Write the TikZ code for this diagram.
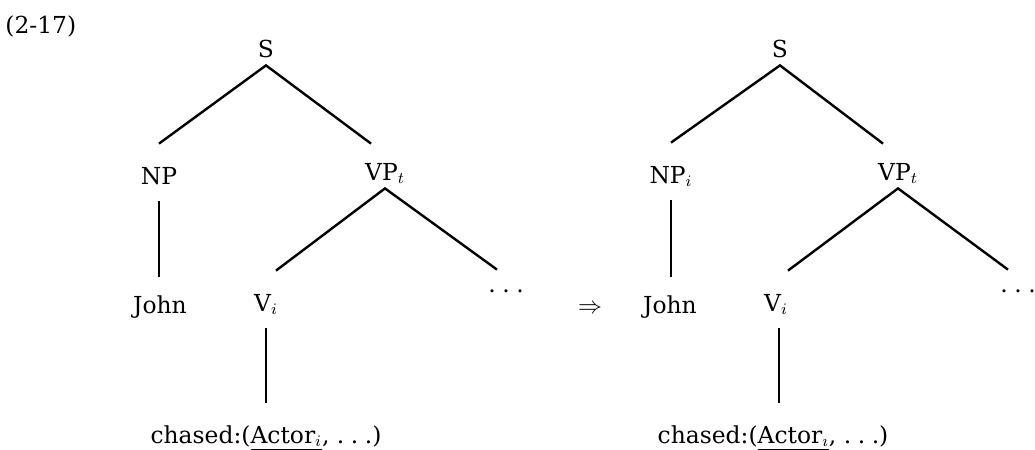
\documentclass[tikz,border=0pt]{standalone}
\usepackage{fontspec}
\setmainfont{DejaVu Serif}
\newcommand\spdots{.\hspace{0.28em}.\hspace{0.28em}.}

\begin{document}
\begin{tikzpicture}[x=0.5pt, y=-0.5pt,
  every node/.style={font=\fontsize{11.7}{14}\selectfont},
  cat/.style={anchor=base, inner sep=0pt, text height=20pt, text depth=8.5pt},
  branch/.style={line width=1.2pt}]
  \useasboundingbox (0,0) rectangle (1035,450);
  \node[anchor=base west, inner sep=0pt] (ex) at (5,33) {(2-17)};

  % tree before the step
  \node[cat, text depth=4pt] (s1) at (266,57) {S};
  \node[cat] (np1) at (159,184) {NP};
  \node[cat, text height=18pt, text depth=4pt] (vp1) at (385,180) {VP$_t$};
  \node[cat, text height=18pt] (john1) at (160,313) {John};
  \node[cat] (v1) at (266,311) {V$_i$};
  \node[cat, text height=11pt] (dots1) at (506,292) {\spdots};
  \node[cat] (chased1) at (266,443) {chased:(\underline{Actor$_i$}, \spdots)};
  \draw[branch] (np1.north) -- (s1.south) -- ([xshift=-7pt]vp1.north);
  \draw[branch] ([xshift=5pt]v1.north) -- (vp1.south) -- ([xshift=-4.5pt]dots1.north);
  \draw[branch] (np1.south) -- (np1.south |- john1.north);
  \draw[branch] (v1.south) -- (v1.south |- chased1.north);

  \node[cat, text height=11pt] (step) at (590,313) {$\Rightarrow$};

  % tree after the step
  \node[cat, text depth=4pt] (s2) at (780,57) {S};
  \node[cat] (np2) at (671,183) {NP$_i$};
  \node[cat, text height=18pt, text depth=4pt] (vp2) at (898,180) {VP$_t$};
  \node[cat, text height=18pt] (john2) at (670,313) {John};
  \node[cat] (v2) at (776,311) {V$_i$};
  \node[cat, text height=11pt] (dots2) at (1018,292) {\spdots};
  \node[cat] (chased2) at (773,443) {chased:(\underline{Actor$_\imath$}, \spdots)};
  \draw[branch] (np2.north) -- (s2.south) -- ([xshift=-7.5pt]vp2.north);
  \draw[branch] ([xshift=6pt]v2.north) -- (vp2.south) -- ([xshift=-5pt]dots2.north);
  \draw[branch] (np2.south) -- (np2.south |- john2.north);
  \draw[branch] ([xshift=1.5pt]v2.south) -- ([xshift=1.5pt]v2.south |- chased2.north);
\end{tikzpicture}
\end{document}
